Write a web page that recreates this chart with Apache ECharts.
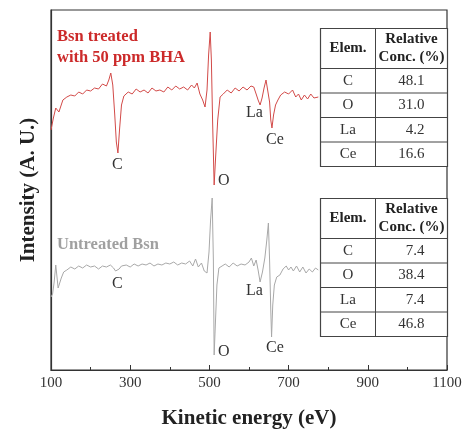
<!DOCTYPE HTML>
<html>
<head>
<meta charset="utf-8">
<title>AES spectra</title>
<style>
    html, body { margin: 0; padding: 0; background: #fff; }
    #aes-chart { width: 466px; height: 430px; }
</style>
</head>
<body>
<div id="aes-chart"></div>
<script type="text/javascript" src="https://cdn.jsdelivr.net/npm/echarts@6.0.0/dist/echarts.min.js"></script>
<script type="text/javascript">
// kinetic energy (eV) and intensity (a.u.)
var treatedEnergy = [100, 106, 112, 120, 130, 140, 150, 160, 170, 180, 190, 200, 210, 220, 230, 240, 246, 251, 256, 261, 265, 269, 273, 278, 284, 295, 305, 315, 325, 335, 345, 355, 365, 375, 385, 395, 405, 415, 425, 435, 445, 455, 462, 469, 476, 483, 489, 494, 498, 502, 505, 508, 512, 516, 521, 527, 535, 545, 555, 565, 575, 585, 595, 605, 612, 618, 623, 628, 633, 638, 643, 648, 652, 655, 658, 662, 667, 673, 680, 690, 700, 710, 718, 725, 732, 740, 748, 756, 764, 775]
var treatedIntensity = [240, 252, 262, 258, 270, 273, 275, 274, 278, 276, 280, 279, 282, 281, 286, 284, 290, 297, 285, 255, 228, 217, 240, 265, 274, 278, 276, 281, 278, 280, 277, 282, 279, 280, 278, 283, 280, 284, 281, 283, 280, 285, 282, 287, 276, 270, 263, 280, 315, 338, 310, 250, 185, 215, 250, 273, 276, 280, 277, 282, 279, 283, 280, 284, 283, 276, 270, 265, 272, 282, 290, 288, 268, 250, 242, 255, 265, 270, 275, 278, 276, 280, 273, 276, 270, 275, 271, 276, 272, 273]
var untreatedEnergy = [100, 104, 108, 112, 115, 118, 121, 126, 132, 140, 150, 160, 170, 180, 190, 200, 210, 220, 230, 240, 250, 258, 263, 267, 272, 278, 290, 300, 310, 320, 330, 340, 350, 360, 370, 380, 390, 400, 410, 420, 430, 440, 450, 458, 465, 472, 480, 487, 494, 499, 503, 507, 510, 512, 515, 519, 524, 532, 540, 550, 560, 570, 580, 590, 600, 606, 612, 618, 623, 628, 634, 640, 645, 649, 652, 655, 657, 660, 664, 670, 678, 686, 694, 700, 706, 712, 720, 728, 736, 744, 752, 760, 768, 775]
var untreatedIntensity = [73, 76, 88, 105, 107, 82, 80, 92, 98, 100, 103, 101, 104, 102, 105, 103, 104, 101, 104, 103, 105, 102, 99, 97, 101, 104, 105, 103, 106, 104, 106, 105, 107, 104, 106, 105, 107, 106, 108, 105, 107, 106, 109, 104, 111, 103, 107, 99, 97, 118, 150, 172, 110, 15, 45, 85, 102, 104, 106, 103, 107, 104, 106, 105, 108, 112, 104, 110, 100, 88, 98, 112, 130, 147, 110, 60, 33, 65, 85, 93, 95, 101, 104, 100, 103, 99, 104, 98, 103, 97, 101, 98, 102, 100]

var xTicks = [100, 300, 500, 700, 900, 1100]

var treatedTable = [['C', '48.1'], ['O', '31.0'], ['La', '4.2'], ['Ce', '16.6']]
var untreatedTable = [['C', '7.4'], ['O', '38.4'], ['La', '7.4'], ['Ce', '46.8']]

var serif = '"Liberation Serif", "DejaVu Serif", serif'

function pairs(xs, ys) {
    var out = []
    xs.forEach(function (x, i) { out.push([x, ys[i]]) })
    return out
}

function tableGraphic(left, top, rows) {
    var w = 127, headH = 40, rowH = 24.5, col = 55
    var h = headH + rows.length * rowH
    var children = [
        { type: 'rect', shape: { x: 0, y: 0, width: w, height: h },
          style: { fill: '#fff', stroke: '#444', lineWidth: 1.2 } },
        { type: 'line', shape: { x1: col, y1: 0, x2: col, y2: h },
          style: { stroke: '#444', lineWidth: 1 } },
        { type: 'text', x: col / 2, y: headH / 2,
          style: { text: 'Elem.', font: 'bold 15px ' + serif, fill: '#222', align: 'center', verticalAlign: 'middle' } },
        { type: 'text', x: col + (w - col) / 2, y: headH / 2,
          style: { text: 'Relative\nConc. (%)', font: 'bold 15px ' + serif, fill: '#222', align: 'center', verticalAlign: 'middle', lineHeight: 18 } }
    ]
    rows.forEach(function (r, i) {
        var y0 = headH + i * rowH
        children.push({ type: 'line', shape: { x1: 0, y1: y0, x2: w, y2: y0 },
            style: { stroke: '#444', lineWidth: 1 } })
        children.push({ type: 'text', x: col / 2, y: y0 + rowH / 2,
            style: { text: r[0], font: '15px ' + serif, fill: '#333', align: 'center', verticalAlign: 'middle' } })
        children.push({ type: 'text', x: 104, y: y0 + rowH / 2,
            style: { text: r[1], font: '15px ' + serif, fill: '#333', align: 'right', verticalAlign: 'middle' } })
    })
    return { type: 'group', left: left, top: top, children: children, z: 100 }
}

function label(text, x, y, color) {
    return { type: 'text', left: x, top: y, z: 90,
        style: { text: text, font: '16px ' + serif, fill: color || '#333' } }
}

var chart = echarts.init(document.getElementById('aes-chart'))
var option = {
    animation: false,
    grid: { left: 51, right: 19, top: 10, bottom: 60, outerBoundsMode: 'none',
        show: true, borderColor: '#333', borderWidth: 1.2 },
    xAxis: {
        type: 'value', min: 100, max: 1100, interval: 200,
        name: 'Kinetic energy (eV)', nameLocation: 'middle', nameGap: 38,
        nameTextStyle: { fontFamily: serif, fontWeight: 'bold', fontSize: 21, color: '#222' },
        axisLine: { lineStyle: { color: '#333', width: 1.2 } },
        axisTick: { inside: true, length: 5, lineStyle: { color: '#333' } },
        minorTick: { show: true, splitNumber: 2, length: 3, lineStyle: { color: '#333' } },
        axisLabel: { fontFamily: serif, fontSize: 15, color: '#333', margin: 6,
            formatter: function (v) { return xTicks.indexOf(v) >= 0 ? String(v) : '' } },
        splitLine: { show: false }
    },
    yAxis: {
        type: 'value', min: 0, max: 360,
        name: 'Intensity (A. U.)', nameLocation: 'middle', nameGap: 12,
        nameTextStyle: { fontFamily: serif, fontWeight: 'bold', fontSize: 21, color: '#222' },
        axisLine: { show: true, lineStyle: { color: '#333', width: 1.2 } },
        axisTick: { show: false }, axisLabel: { show: false }, splitLine: { show: false }
    },
    series: [
        { name: 'Bsn treated with 50 ppm BHA', type: 'line', data: pairs(treatedEnergy, treatedIntensity),
          symbol: 'none', lineStyle: { color: '#d24a48', width: 1 } },
        { name: 'Untreated Bsn', type: 'line', data: pairs(untreatedEnergy, untreatedIntensity),
          symbol: 'none', lineStyle: { color: '#a8a8a8', width: 1 } }
    ],
    graphic: [
        { type: 'text', left: 57, top: 26, z: 90,
          style: { text: 'Bsn treated\nwith 50 ppm BHA', font: 'bold 16.5px ' + serif, fill: '#cc2a2a', lineHeight: 21 } },
        { type: 'text', left: 57, top: 236, z: 90,
          style: { text: 'Untreated Bsn', font: 'bold 16.5px ' + serif, fill: '#a0a0a0' } },
        label('C', 112, 157), label('O', 218, 173), label('La', 246, 105), label('Ce', 266, 132),
        label('C', 112, 276), label('La', 246, 283), label('O', 218, 344), label('Ce', 266, 340),
        tableGraphic(318, 26, treatedTable),
        tableGraphic(318, 196, untreatedTable)
    ]
}
chart.setOption(option)
</script>
</body>
</html>
